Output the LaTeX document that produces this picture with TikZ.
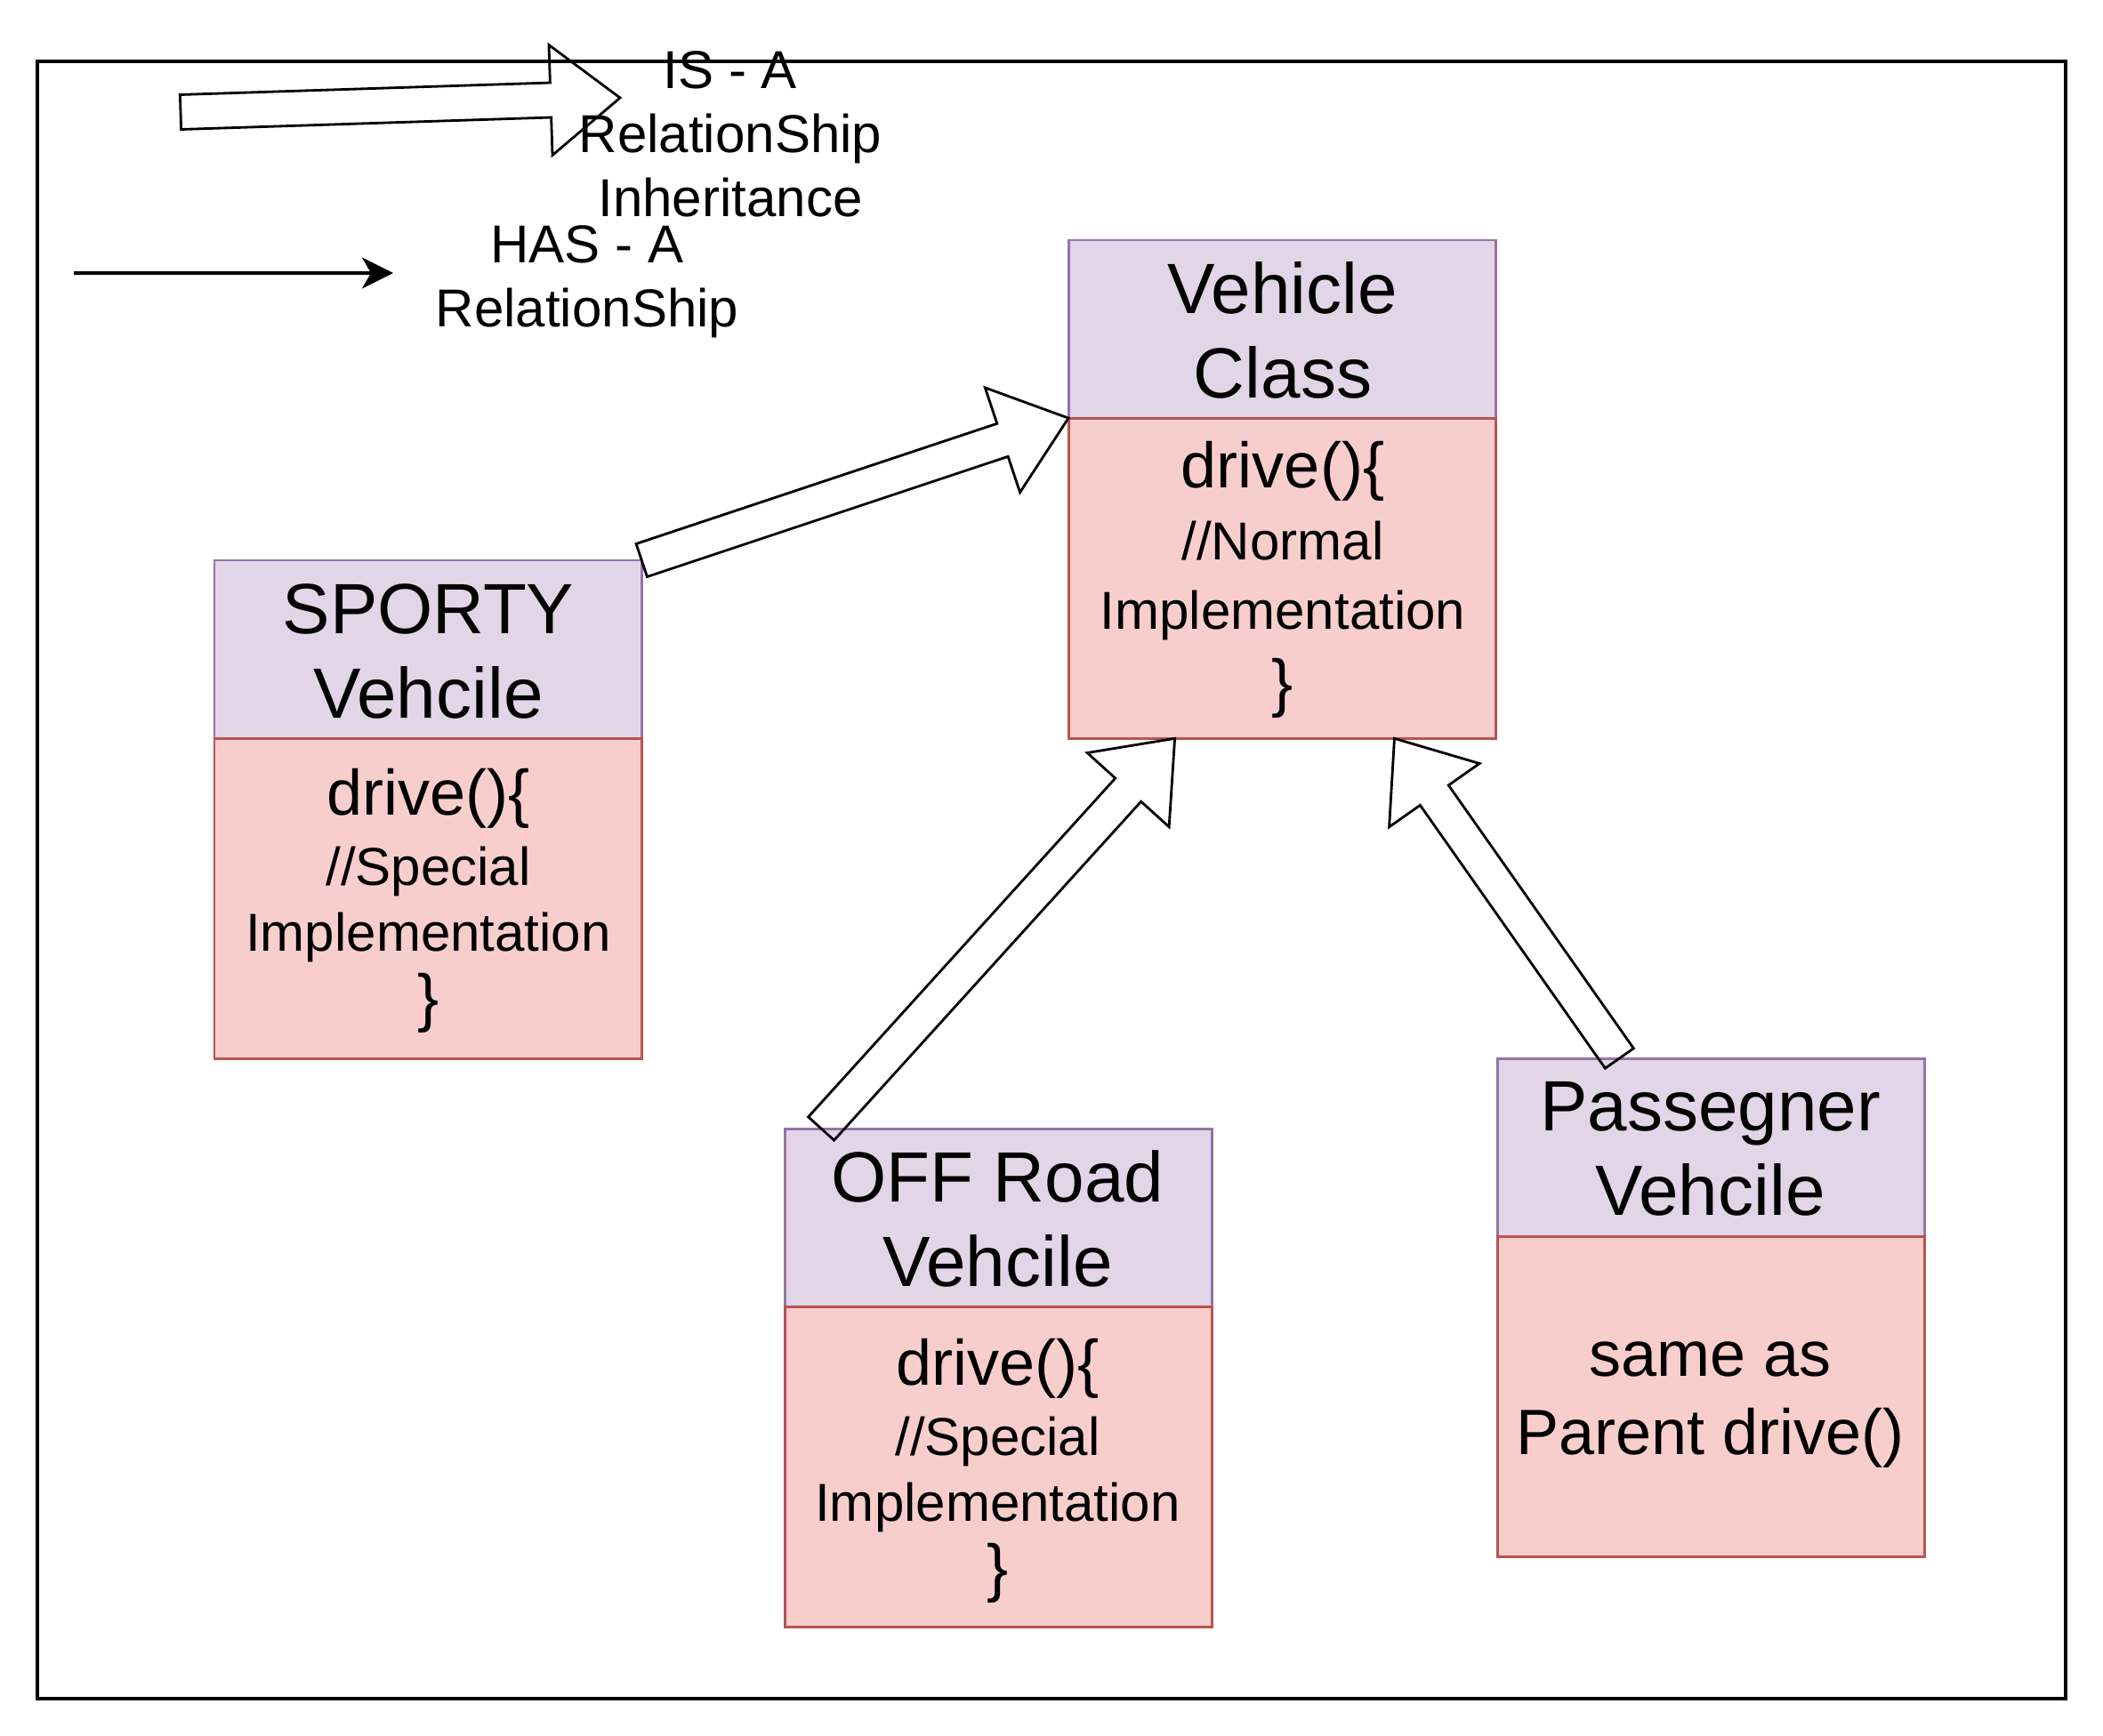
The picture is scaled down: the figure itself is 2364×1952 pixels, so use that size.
\documentclass[tikz,border=0pt]{standalone}
\usepackage{fontspec}
\setmainfont{Liberation Sans}
\usetikzlibrary{calc,arrows.meta}
\definecolor{hdrfill}{HTML}{E1D5E7}
\definecolor{hdrline}{HTML}{9673A6}
\definecolor{bodyfill}{HTML}{F8CECC}
\definecolor{bodyline}{HTML}{B85450}
\tikzset{
  hdrbox/.style={draw=hdrline, fill=hdrfill, line width=0.85pt, minimum width=4.8cm, minimum height=2cm, anchor=north west, inner sep=0pt, outer sep=0pt},
  bodybox/.style={draw=bodyline, fill=bodyfill, line width=0.85pt, minimum width=4.8cm, minimum height=3.6cm, anchor=north west, inner sep=0pt, outer sep=0pt},
  tl/.style={anchor=base, inner sep=0pt, outer sep=0pt},
  hf/.style={font=\fontsize{22.76pt}{27.3pt}\selectfont},
  bf/.style={font=\fontsize{20.49pt}{24.6pt}\selectfont},
  sf/.style={font=\fontsize{17.07pt}{20.5pt}\selectfont},
  flexa/.style={draw=black, line width=0.8pt, fill=none, line join=miter},
  hasarrow/.style={draw=black, line width=0.9pt, -{Stealth[length=0.35cm, width=0.35cm, inset=0.1cm]}},
  framebox/.style={draw=black, line width=1.14pt}
}
\newcommand\flexarrow[2]{%
  \coordinate (fxP) at ($(#2)!0.78cm!(#1)$);
  \draw[flexa] ($(#1)!0.195cm!90:(#2)$) -- ($(fxP)!0.195cm!90:(#2)$) -- ($(fxP)!0.62cm!90:(#2)$) -- (#2)
     -- ($(fxP)!0.62cm!-90:(#2)$) -- ($(fxP)!0.195cm!-90:(#2)$) -- ($(#1)!0.195cm!-90:(#2)$) -- cycle;
}
\begin{document}
\begin{tikzpicture}[x=0.01cm, y=-0.01cm]
\useasboundingbox (0,0) rectangle (2364,1952);
% frame
\draw[framebox] (42,69) rectangle (2322,1910);

% Vehicle Class
\node[hdrbox] (vh) at (1201,270) {};
\node[bodybox] (vb) at (vh.south west) {};
\node[tl,hf] (vh1) at (1442,353) {Vehicle};
\node[tl,hf] (vh2) at (1442,448) {Class};
\node[tl,bf] (vb1) at (1442,548) {drive()\{};
\node[tl,sf] (vb2) at (1442,629) {//Normal};
\node[tl,sf] (vb3) at (1442,707) {Implementation};
\node[tl,bf] (vb4) at (1442,792) {\}};

% SPORTY
\node[hdrbox] (sh) at (241,630) {};
\node[bodybox] (sb) at (sh.south west) {};
\node[tl,hf] (sh1) at (481.5,712) {SPORTY};
\node[tl,hf] (sh2) at (481.5,807) {Vehcile};
\node[tl,bf] (sb1) at (481.5,916) {drive()\{};
\node[tl,sf] (sb2) at (481.5,995) {//Special};
\node[tl,sf] (sb3) at (481.5,1069) {Implementation};
\node[tl,bf] (sb4) at (481.5,1146) {\}};

% OFF Road
\node[hdrbox] (oh) at (882,1269) {};
\node[bodybox] (ob) at (oh.south west) {};
\node[tl,hf] (oh1) at (1121.5,1351) {OFF Road};
\node[tl,hf] (oh2) at (1121.5,1446) {Vehcile};
\node[tl,bf] (ob1) at (1121.5,1557) {drive()\{};
\node[tl,sf] (ob2) at (1121.5,1636) {//Special};
\node[tl,sf] (ob3) at (1121.5,1710) {Implementation};
\node[tl,bf] (ob4) at (1121.5,1787) {\}};

% Passenger
\node[hdrbox] (ph) at (1683,1190) {};
\node[bodybox] (pb) at (ph.south west) {};
\node[tl,hf] (ph1) at (1922.5,1271) {Passegner};
\node[tl,hf] (ph2) at (1922.5,1366) {Vehcile};
\node[tl,bf] (pb1) at (1922.5,1547) {same as};
\node[tl,bf] (pb2) at (1922.5,1635) {Parent drive()};

% inheritance arrows
\flexarrow{sh.north east}{vb.north west}
\coordinate (offtail) at ($(oh.north west)!0.0856!(oh.north east)$);
\coordinate (offtip) at ($(vb.south west)!0.249!(vb.south east)$);
\flexarrow{offtail}{offtip}
\coordinate (pastail) at ($(ph.north west)!0.286!(ph.north east)$);
\coordinate (pastip) at ($(vb.south west)!0.763!(vb.south east)$);
\flexarrow{pastail}{pastip}

% legend
\coordinate (isaT) at (203,126);
\coordinate (isaH) at (697,110);
\flexarrow{isaT}{isaH}
\node[tl,sf] (isa1) at (821,100) {IS - A};
\node[tl,sf] (isa2) at (821,172) {RelationShip};
\node[tl,sf] (isa3) at (821,244) {Inheritance};

\coordinate (hasT) at (83,307);
\coordinate (hasH) at (442,307);
\draw[hasarrow] (hasT) -- (hasH);
\node[tl,sf] (has1) at (660,296) {HAS - A};
\node[tl,sf] (has2) at (660,368) {RelationShip};
\end{tikzpicture}
\end{document}
